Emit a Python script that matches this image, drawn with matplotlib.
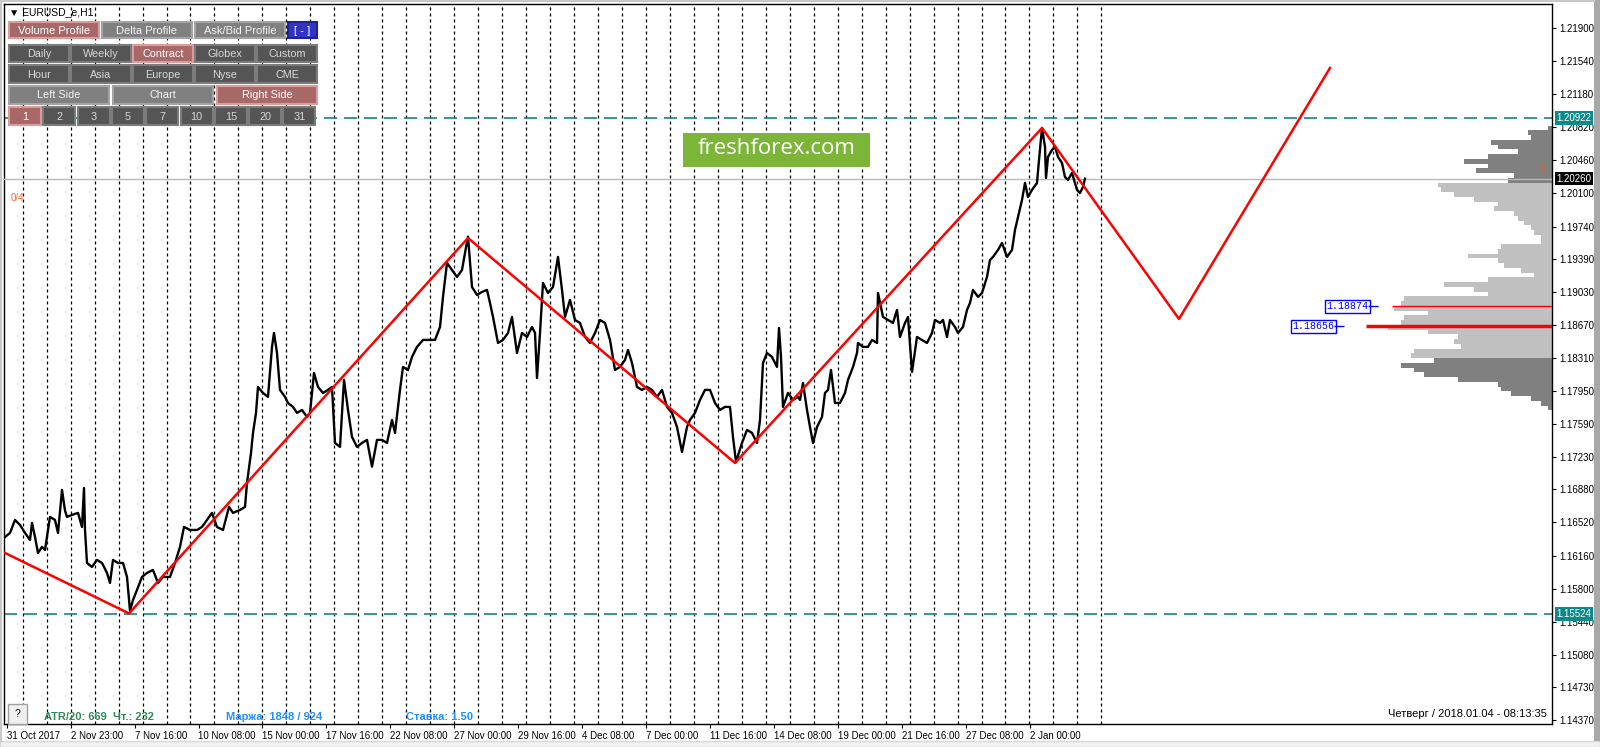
import numpy as np
import matplotlib.pyplot as plt
from matplotlib.patches import Rectangle
from matplotlib.transforms import blended_transform_factory

# EURUSD_e H1, sampled closes (x = bar column on the chart)
bar_x = [5, 10, 15, 20, 25, 30, 32, 35, 38, 42, 45, 50, 55, 58, 62, 65, 67, 72, 78, 82, 84, 85,
         87, 92, 97, 102, 107, 110, 113, 118, 123, 127, 130, 133, 137, 142, 147, 153, 158, 163,
         170, 175, 180, 184, 190, 197, 202, 207, 212, 217, 223, 229, 233, 240, 245, 247, 251,
         253, 256, 258, 263, 268,
         272, 274, 277, 280, 285, 288, 293, 297, 302, 307, 310, 314, 318, 323, 328, 332, 335,
         340, 344, 348, 352, 357, 362, 367, 372, 377, 382, 387, 392, 395, 400, 403, 408, 412,
         417, 423, 430, 435, 440, 443, 447, 452, 457, 462, 465, 468, 472, 477, 482, 487, 490,
         493, 498, 503, 508, 512, 517, 522, 527, 532, 535, 537,
         540, 543, 548, 553, 558, 562, 565, 570, 575, 580, 585, 590, 595, 600, 605, 610, 615,
         620, 625, 628, 632, 637, 642, 647, 652, 657, 662, 667, 672, 677, 682, 687, 690, 695,
         700, 705, 710, 715, 720, 725, 730, 733, 736, 742, 747, 752, 757, 760, 763, 767, 772,
         777, 779, 781, 783, 788, 793, 798,
         800, 803, 807, 810, 813, 817, 822, 825, 828, 831, 835, 840, 845, 848, 853, 857, 858,
         863, 868, 872, 877, 878, 883, 888, 893, 897, 900, 905, 908, 912, 917, 922, 927, 932,
         935, 940, 943, 947, 950, 955, 958, 963, 967, 970, 973, 978, 982, 987, 990, 993, 998,
         1002, 1007, 1012, 1015, 1018, 1022, 1025, 1028, 1032, 1037, 1039, 1042, 1045, 1046,
         1048, 1052, 1055, 1058, 1062, 1065, 1068, 1072, 1077, 1080, 1083, 1085]
close = [1.16362, 1.16406, 1.16547, 1.16493, 1.16406, 1.16330, 1.16515, 1.16362, 1.16188, 1.16254,
         1.16221, 1.16580, 1.16547, 1.16406, 1.16873, 1.16650, 1.16580, 1.16602, 1.16624, 1.16471,
         1.16895, 1.16438, 1.16079, 1.16036, 1.16112, 1.16079, 1.15971, 1.15862, 1.16112, 1.16079,
         1.16079, 1.15927, 1.15560, 1.15676, 1.15786, 1.15927, 1.15971, 1.16003, 1.15862, 1.15927,
         1.15927, 1.16079, 1.16254, 1.16471, 1.16438, 1.16438, 1.16471, 1.16547, 1.16624, 1.16471,
         1.16438, 1.16689, 1.16624, 1.16656, 1.16689, 1.16950, 1.17276, 1.17494, 1.17712, 1.17994,
         1.17929, 1.17886,
         1.18430, 1.18582, 1.18364, 1.17962, 1.17886, 1.17820, 1.17777, 1.17712, 1.17744, 1.17668,
         1.17712, 1.18146, 1.17994, 1.17929, 1.17962, 1.17994, 1.17385, 1.17342, 1.18071, 1.17744,
         1.17450, 1.17342, 1.17385, 1.17418, 1.17127, 1.17418, 1.17418, 1.17385, 1.17635, 1.17494,
         1.17962, 1.18212, 1.18179, 1.18321, 1.18430, 1.18506, 1.18506, 1.18506, 1.18647, 1.18974,
         1.19343, 1.19267, 1.19191, 1.19267, 1.19452, 1.19630, 1.19082, 1.18995, 1.19028, 1.19050,
         1.18908, 1.18756, 1.18473, 1.18506, 1.18582, 1.18756, 1.18364, 1.18582, 1.18538, 1.18647,
         1.18582, 1.18092,
         1.18582, 1.19126, 1.19017, 1.19082, 1.19409, 1.19050, 1.18756, 1.18941, 1.18723, 1.18691,
         1.18538, 1.18473, 1.18582, 1.18723, 1.18691, 1.18506, 1.18179, 1.18212, 1.18288, 1.18397,
         1.18255, 1.17994, 1.17962, 1.17994, 1.17962, 1.17886, 1.17962, 1.17777, 1.17712, 1.17559,
         1.17287, 1.17559, 1.17635, 1.17712, 1.17853, 1.17962, 1.17962, 1.17820, 1.17744, 1.17777,
         1.17777, 1.17450, 1.17178, 1.17385, 1.17527, 1.17494, 1.17385, 1.17635, 1.18255, 1.18364,
         1.18321, 1.18212, 1.18636, 1.18321, 1.17777, 1.17929, 1.17853, 1.17886,
         1.17853, 1.18038, 1.17744, 1.17559, 1.17385, 1.17559, 1.17668, 1.17929, 1.17962, 1.18179,
         1.17820, 1.17820, 1.17929, 1.18071, 1.18212, 1.18364, 1.18473, 1.18430, 1.18430, 1.18506,
         1.18473, 1.19017, 1.18756, 1.18723, 1.18691, 1.18832, 1.18538, 1.18691, 1.18756, 1.18157,
         1.18538, 1.18506, 1.18473, 1.18582, 1.18723, 1.18691, 1.18723, 1.18538, 1.18723, 1.18647,
         1.18582, 1.18647, 1.18832, 1.18908, 1.19050, 1.18974, 1.19017, 1.19191, 1.19376, 1.19409,
         1.19485, 1.19561, 1.19409, 1.19485, 1.19703, 1.19844, 1.20029, 1.20214, 1.20062, 1.20138,
         1.20214, 1.20464, 1.20812, 1.20606, 1.20268, 1.20497, 1.20573, 1.20606, 1.20497, 1.20431,
         1.20279, 1.20247, 1.20323, 1.20138, 1.20105, 1.20170, 1.20260]

# zigzag (red) incl. projection
zz_x = [5, 129, 468, 735, 1042, 1179, 1330]
zz_p = [1.16188, 1.15530, 1.19615, 1.17167, 1.20812, 1.18734, 1.21465]

level_hi = 1.20922
level_lo = 1.15524
last_price = 1.20260
poc_main = 1.18656
poc_second = 1.18874

# volume profile (right side), top -> bottom
prof_top, prof_bot = 1.20812, 1.17766
prof_vol = [4, 24, 21, 61, 54, 34, 64, 88, 64, 76, 38, 44, 114, 111, 98, 78, 54, 58, 38, 34,
            28, 21, 18, 11, 11, 51, 54, 84, 54, 48, 31, 18, 64, 108, 78, 64, 148, 151, 158, 124,
            148, 151, 164, 124, 94, 98, 91, 138, 141, 118, 151, 138, 128, 94, 54, 51, 41, 21, 11, 4]
va_hi, va_lo = 1.20205, 1.18288

price_ticks = [1.21900, 1.21540, 1.21180, 1.20820, 1.20460, 1.20100, 1.19740, 1.19390,
               1.19030, 1.18670, 1.18310, 1.17950, 1.17590, 1.17230, 1.16880, 1.16520,
               1.16160, 1.15800, 1.15440, 1.15080, 1.14730, 1.14370]
date_pos = [6.7, 70.6, 134.6, 198.5, 262.4, 326.4, 390.3, 454.2, 518.1, 582.1, 646.0,
            709.9, 773.9, 837.8, 901.7, 965.7, 1029.6]
date_labels = ['31 Oct 2017', '2 Nov 23:00', '7 Nov 16:00', '10 Nov 08:00', '15 Nov 00:00',
               '17 Nov 16:00', '22 Nov 08:00', '27 Nov 00:00', '29 Nov 16:00', '4 Dec 08:00',
               '7 Dec 00:00', '11 Dec 16:00', '14 Dec 08:00', '19 Dec 00:00', '21 Dec 16:00',
               '27 Dec 08:00', '2 Jan 00:00']
n_days = 46

plt.rcParams['font.family'] = ['Liberation Sans', 'DejaVu Sans']

W, H = 1600, 747
fig = plt.figure(figsize=(W / 100, H / 100), dpi=100)
fig.patch.set_facecolor('white')
ax = fig.add_axes([4 / W, 1 - 724 / H, 1548 / W, 720 / H])
ax.set_xlim(4, 1552)
ax.set_ylim(1.14327, 1.22161)
for s in ax.spines.values():
    s.set_color('black')
    s.set_linewidth(1)

# day separators
sep_x = 22.7 + 23.97 * np.arange(n_days)
for xs in sep_x:
    ax.axvline(xs, color='black', lw=0.9, ls=(0, (2.4, 2.4)), zorder=1)

# levels
teal = '#0a8a8a'
for lv in (level_hi, level_lo):
    ax.axhline(lv, color=teal, lw=1.2, ls=(0, (7.8, 4.2)), zorder=2)

# volume profile
step = (prof_top - prof_bot) / (len(prof_vol) - 1)
prof_p = np.linspace(prof_top, prof_bot, len(prof_vol))
cols = ['#808080' if (p > va_hi or p < va_lo) else '#c0c0c0' for p in prof_p]
ax.barh(prof_p, prof_vol, left=[1552 - v for v in prof_vol], height=step,
        color=cols, edgecolor='none', zorder=2)

ax.axhline(last_price, color='#b8b8b8', lw=1, zorder=3)

ax.hlines(poc_main, 1366, 1552, color='red', lw=2.5, zorder=4)
ax.hlines(poc_second, 1392, 1552, color='red', lw=1, zorder=4)

# price and zigzag
ax.plot(bar_x, close, color='black', lw=1.7, zorder=5)
ax.plot(zz_x, zz_p, color='red', lw=1.8, zorder=6)

# POC labels
for val, xc, x_end in [(poc_main, 1313, 1344), (poc_second, 1347, 1378)]:
    ax.text(xc, val, f'{val:.5f}', ha='center', va='center', fontsize=7.2,
            family='Liberation Mono', color='#0000ff', zorder=7,
            bbox=dict(boxstyle='square,pad=0.15', fc='white', ec='#0000ff', lw=1))
    ax.hlines(val, xc + 21, x_end, color='#0000ff', lw=1, zorder=7)

# axes ticks
ax.yaxis.tick_right()
ax.set_yticks(price_ticks, [f'{p:.5f}' for p in price_ticks])
ax.tick_params(axis='y', direction='out', length=3, pad=2, labelsize=7, colors='black')
ax.set_xticks(date_pos, date_labels)
ax.tick_params(axis='x', direction='out', length=3, pad=2, labelsize=7, colors='black')
for lab in ax.get_xticklabels():
    lab.set_ha('left')

tr = blended_transform_factory(ax.transAxes, ax.transData)
for val, fc in [(level_hi, teal), (level_lo, teal), (last_price, 'black')]:
    ax.text(1 + 4.5 / 1548, val, f'{val:.5f}', transform=tr, ha='left', va='center',
            fontsize=7, color='white', zorder=8,
            bbox=dict(boxstyle='square,pad=0.18', fc=fc, ec='none'))

# overlay for the terminal widgets
ui = fig.add_axes([0, 0, 1, 1], zorder=10)
ui.set_xlim(0, W)
ui.set_ylim(H, 0)
ui.axis('off')
ui.patch.set_alpha(0)

ui.add_patch(Rectangle((0, 741), W, 6, fc='#f0f0f0', ec='#d8d8d8', lw=1))
ui.add_patch(Rectangle((1594, 0), 6, 741, fc='#a8a8a8', ec='none'))
ui.plot([0, 1594], [1, 1], color='#c8c8c8', lw=1.5)
ui.plot([1, 1], [0, 741], color='#c8c8c8', lw=1.5)

ui.text(9, 12.5, '▼ EURUSD_e,H1', fontsize=7.5, va='center', color='black',
        family=['Liberation Sans', 'DejaVu Sans'])

rose = ('#a86868', '#dc9c9c', 'white')
gray = ('#808080', '#a4a4a4', '#f4f4f4')
dark = ('#555555', '#7c7c7c', '#d8d8d8')
blue = ('#3434c4', '#2020a0', 'white')


def button(x0, y0, x1, y1, label, style, fs=7.8):
    fc, ec, tc = style
    ui.add_patch(Rectangle((x0, y0), x1 - x0, y1 - y0, fc=fc, ec=ec, lw=1.5))
    ui.text((x0 + x1) / 2, (y0 + y1) / 2 + 0.5, label, ha='center', va='center',
            fontsize=fs, color=tc)


button(9, 22, 99, 38, 'Volume Profile', rose, 8)
button(102, 22, 192, 38, 'Delta Profile', gray, 8)
button(195, 22, 285, 38, 'Ask/Bid Profile', gray, 8)
button(288, 22, 317, 38, '[ - ]', blue, 8)

row2 = ['Daily', 'Weekly', 'Contract', 'Globex', 'Custom']
row3 = ['Hour', 'Asia', 'Europe', 'Nyse', 'CME']
for i, (a, b) in enumerate(zip(row2, row3)):
    x0 = 9 + 62 * i
    button(x0, 45, x0 + 60, 62, a, rose if a == 'Contract' else dark)
    button(x0, 65, x0 + 60, 83, b, dark)

for i, lab in enumerate(['Left Side', 'Chart', 'Right Side']):
    x0 = 9 + 104 * i
    button(x0, 86, x0 + 100, 104, lab, rose if lab == 'Right Side' else gray)

nums = ['1', '2', '3', '5', '7', '10', '15', '20', '31']
for i, lab in enumerate(nums):
    x0 = 9 + 34.3 * i
    button(x0, 107, x0 + 32, 125, lab, rose if lab == '1' else dark)

ui.text(11, 198, '0/4', fontsize=7, color='#ff6a2a', va='center')
ui.text(1542, 170, '1', fontsize=10, color='#e06030', va='center', ha='center')

ui.add_patch(Rectangle((683, 133), 187, 34, fc='#7cb538', ec='none'))
ui.text(776.5, 149, 'freshforex.com', ha='center', va='center', fontsize=16,
        color='white', family='Open Sans')

ui.add_patch(Rectangle((8, 704), 19, 20, fc='#f0f0f0', ec='#a0a0a0', lw=1))
ui.text(17.5, 714, '?', ha='center', va='center', fontsize=7.5, color='black')

ui.text(44, 717, 'ATR/20: 669  Чт.: 232', fontsize=8, weight='bold', color='#2e8b57',
        va='center')
ui.text(226, 717, 'Маржа: 1848 / 924', fontsize=8, weight='bold', color='#1e90ff',
        va='center')
ui.text(406, 717, 'Ставка: 1.50', fontsize=8, weight='bold', color='#1e90ff', va='center')
ui.text(1547, 714, 'Четверг / 2018.01.04 - 08:13:35', fontsize=8, color='black',
        ha='right', va='center')

fig.savefig('out.png', dpi=100)
